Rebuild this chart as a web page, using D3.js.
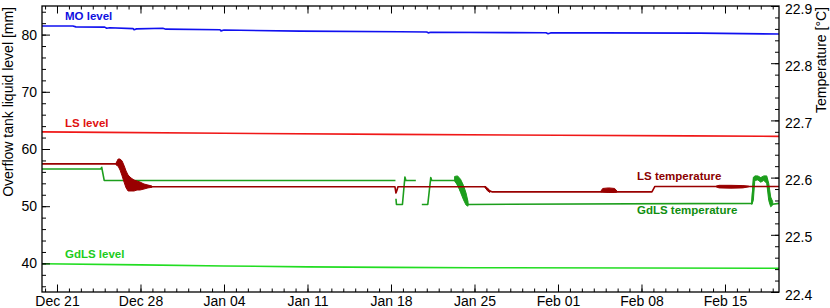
<!DOCTYPE html>
<html>
<head>
<meta charset="utf-8">
<script src="https://cdn.jsdelivr.net/npm/d3@7"></script>
<style>
  body { margin: 0; background: #fff; }
  svg { display: block; font-family: "Liberation Sans", Arial, sans-serif; }
</style>
</head>
<body>
<svg id="chart" width="830" height="308"></svg>
<script>
// time range of the plot and the week ticks
const timeStart = "2011-12-19 17:50";
const timeEnd = "2012-02-19 12:40";
const weekTicks = ["2011-12-21", "2011-12-28", "2012-01-04", "2012-01-11", "2012-01-18",
                   "2012-01-25", "2012-02-01", "2012-02-08", "2012-02-15"];
const levelTicks = [40, 50, 60, 70, 80];
const tempTicks = [22.4, 22.5, 22.6, 22.7, 22.8, 22.9];

// liquid levels [mm] (left axis)
const moLevel = [
  ["2011-12-19 17:50", 81.5], ["2011-12-22 08:00", 81.5], ["2011-12-22 14:00", 81.35],
  ["2011-12-25 00:00", 81.3], ["2011-12-25 04:00", 81.1], ["2011-12-25 10:00", 81.2],
  ["2011-12-27 09:00", 81.05], ["2011-12-27 11:00", 80.85], ["2011-12-27 16:00", 81.0],
  ["2011-12-29 21:00", 81.1], ["2011-12-30 03:00", 80.95], ["2012-01-03 16:00", 80.85],
  ["2012-01-03 18:00", 80.65], ["2012-01-04 00:00", 80.8], ["2012-01-10 09:00", 80.6],
  ["2012-01-18 18:00", 80.5], ["2012-01-21 00:00", 80.45], ["2012-01-21 03:00", 80.3],
  ["2012-01-21 08:00", 80.42], ["2012-01-28 03:00", 80.35], ["2012-01-31 00:00", 80.32],
  ["2012-01-31 04:00", 80.15], ["2012-01-31 09:00", 80.3], ["2012-02-04 12:00", 80.3],
  ["2012-02-12 22:00", 80.25], ["2012-02-19 12:40", 80.1]
];
const lsLevel = [
  ["2011-12-19 17:50", 63.0], ["2011-12-25 00:00", 62.9], ["2012-01-04 00:00", 62.75],
  ["2012-01-18 00:00", 62.55], ["2012-02-01 00:00", 62.4], ["2012-02-12 00:00", 62.3],
  ["2012-02-19 12:40", 62.2]
];
const gdlsLevel = [
  ["2011-12-19 17:50", 39.95], ["2011-12-28 00:00", 39.75], ["2012-01-04 00:00", 39.55],
  ["2012-01-11 00:00", 39.4], ["2012-01-18 00:00", 39.3], ["2012-01-25 00:00", 39.25],
  ["2012-02-08 00:00", 39.2], ["2012-02-19 12:40", 39.15]
];

// temperatures [°C] (right axis); null = no data
const lsTemp = [
  ["2011-12-19 17:50", 22.624], ["2011-12-25 23:00", 22.624], ["2011-12-26 03:00", 22.628],
  ["2011-12-26 11:00", 22.616], ["2011-12-26 19:00", 22.597], ["2011-12-27 05:00", 22.585],
  ["2011-12-27 17:00", 22.586], ["2011-12-28 07:00", 22.586], ["2011-12-28 23:00", 22.584],
  ["2012-01-18 08:00", 22.584], ["2012-01-18 10:00", 22.573], ["2012-01-18 12:00", 22.578],
  ["2012-01-18 14:00", 22.584], ["2012-01-25 21:00", 22.584], ["2012-01-26 04:00", 22.578],
  ["2012-01-26 12:00", 22.575], ["2012-02-08 21:00", 22.575], ["2012-02-09 03:00", 22.5845],
  ["2012-02-19 12:40", 22.5845]
];
const gdlsTemp = [
  ["2011-12-19 17:50", 22.615], ["2011-12-24 16:00", 22.615], ["2011-12-24 18:00", 22.618],
  ["2011-12-24 23:00", 22.595], ["2012-01-18 09:00", 22.595], ["2012-01-18 09:30", null],
  ["2012-01-18 10:00", 22.563], ["2012-01-18 11:00", 22.553], ["2012-01-18 23:00", 22.553],
  ["2012-01-19 04:00", 22.601], ["2012-01-19 06:00", 22.595], ["2012-01-20 02:00", 22.595],
  ["2012-01-20 08:00", null], ["2012-01-20 14:00", 22.553], ["2012-01-21 02:00", 22.553],
  ["2012-01-21 08:00", 22.600], ["2012-01-21 10:00", 22.595], ["2012-01-23 09:00", 22.595],
  ["2012-01-24 11:00", 22.553], ["2012-02-17 06:00", 22.555], ["2012-02-17 10:00", 22.599],
  ["2012-02-18 12:00", 22.598], ["2012-02-18 20:00", 22.553], ["2012-02-19 12:40", 22.555]
];

// noisy stretches: [time, low, high]
const lsTempBurstDec = [
  ["2011-12-25 23:00", 22.622, 22.6255], ["2011-12-26 03:00", 22.620, 22.6325],
  ["2011-12-26 07:00", 22.613, 22.6325], ["2011-12-26 11:00", 22.603, 22.629],
  ["2011-12-26 15:00", 22.592, 22.621], ["2011-12-26 19:00", 22.582, 22.6115],
  ["2011-12-26 23:00", 22.5766, 22.6045], ["2011-12-27 05:00", 22.5766, 22.5993],
  ["2011-12-27 11:00", 22.5766, 22.5958], ["2011-12-27 17:00", 22.5783, 22.594],
  ["2011-12-27 23:00", 22.5783, 22.5923], ["2011-12-28 07:00", 22.580, 22.5888],
  ["2011-12-28 15:00", 22.582, 22.587], ["2011-12-28 23:00", 22.583, 22.5853]
];
const lsTempBurstJan = [
  ["2012-01-25 21:00", 22.583, 22.585], ["2012-01-26 02:00", 22.577, 22.582],
  ["2012-01-26 07:00", 22.574, 22.577]
];
const lsTempBurstFeb1 = [
  ["2012-02-04 14:00", 22.575, 22.576], ["2012-02-04 18:00", 22.575, 22.581],
  ["2012-02-05 06:00", 22.574, 22.582], ["2012-02-05 18:00", 22.574, 22.581],
  ["2012-02-05 23:00", 22.575, 22.576]
];
const lsTempBurstFeb2 = [
  ["2012-02-14 06:00", 22.584, 22.585], ["2012-02-14 12:00", 22.582, 22.5865],
  ["2012-02-15 12:00", 22.5815, 22.5865], ["2012-02-16 12:00", 22.582, 22.586],
  ["2012-02-17 00:00", 22.584, 22.585]
];
const gdlsTempBurstJan = [
  ["2012-01-23 08:00", 22.594, 22.602], ["2012-01-23 14:00", 22.588, 22.603],
  ["2012-01-23 20:00", 22.574, 22.597], ["2012-01-24 02:00", 22.561, 22.586],
  ["2012-01-24 07:00", 22.552, 22.573], ["2012-01-24 11:00", 22.550, 22.558]
];
const gdlsTempBurstFeb = [
  ["2012-02-17 06:00", 22.553, 22.558], ["2012-02-17 09:00", 22.560, 22.600],
  ["2012-02-17 12:00", 22.595, 22.603], ["2012-02-17 18:00", 22.596, 22.603],
  ["2012-02-18 00:00", 22.592, 22.600], ["2012-02-18 06:00", 22.595, 22.603],
  ["2012-02-18 12:00", 22.590, 22.603], ["2012-02-18 16:00", 22.560, 22.590],
  ["2012-02-18 20:00", 22.549, 22.566], ["2012-02-19 00:00", 22.552, 22.558]
];

const parseTime = d3.timeParse("%Y-%m-%d %H:%M");
const parseDay = d3.timeParse("%Y-%m-%d");

const svg = d3.select("#chart");
const plotLeft = 42, plotRight = 779, plotTop = 6, plotBottom = 292;

const x = d3.scaleTime().domain([parseTime(timeStart), parseTime(timeEnd)]).range([plotLeft, plotRight]);
const yL = d3.scaleLinear().domain([35, 85]).range([plotBottom, plotTop]);
const yR = d3.scaleLinear().domain([22.4, 22.9]).range([plotBottom, plotTop]);

svg.append("defs").append("clipPath").attr("id", "plotclip")
  .append("rect").attr("x", plotLeft).attr("y", plotTop)
  .attr("width", plotRight - plotLeft).attr("height", plotBottom - plotTop);

const plot = svg.append("g").attr("clip-path", "url(#plotclip)");

function lineOn(y) {
  return d3.line()
    .defined(d => d[1] != null)
    .x(d => x(parseTime(d[0])))
    .y(d => y(d[1]));
}
function band(rows, color) {
  plot.append("path")
    .datum(rows)
    .attr("fill", color)
    .attr("stroke", color)
    .attr("stroke-width", 1)
    .attr("d", d3.area()
      .x(d => x(parseTime(d[0])))
      .y0(d => yR(d[1]))
      .y1(d => yR(d[2])));
}
function series(rows, y, color, w) {
  plot.append("path")
    .datum(rows)
    .attr("fill", "none")
    .attr("stroke", color)
    .attr("stroke-width", w)
    .attr("stroke-linejoin", "round")
    .attr("d", lineOn(y));
}

const cMO = "#1010f0", cLS = "#f01818", cGdLS = "#22dd22";
const cLSt = "#990000", cGdLSt = "#1c9e1c";

series(moLevel, yL, cMO, 1.6);
series(lsLevel, yL, cLS, 1.6);
series(gdlsLevel, yL, cGdLS, 1.6);

series(gdlsTemp, yR, cGdLSt, 1.6);
band(gdlsTempBurstJan, cGdLSt);
band(gdlsTempBurstFeb, cGdLSt);

series(lsTemp, yR, cLSt, 1.6);
band(lsTempBurstDec, cLSt);
band(lsTempBurstJan, cLSt);
band(lsTempBurstFeb1, cLSt);
band(lsTempBurstFeb2, cLSt);

// axes, ROOT style: ticks pointing inside the frame
const majorDays = weekTicks.map(parseDay);
const minorDays = d3.timeDay.range(x.domain()[0], x.domain()[1]);

function styleAxis(g) {
  g.select(".domain").remove();
  g.selectAll("line").attr("stroke", "#000").attr("stroke-width", 1);
  g.selectAll("text").attr("font-size", 14).attr("fill", "#000")
    .attr("font-family", "'Liberation Sans', Arial, sans-serif");
}

svg.append("g").attr("transform", `translate(0,${plotBottom})`)
  .call(d3.axisBottom(x).tickValues(minorDays).tickSize(-3.5).tickFormat(""))
  .call(styleAxis);
svg.append("g").attr("transform", `translate(0,${plotBottom})`)
  .call(d3.axisBottom(x).tickValues(majorDays).tickSize(-7.5).tickPadding(4)
    .tickFormat(d3.timeFormat("%b %d")))
  .call(styleAxis);
svg.append("g").attr("transform", `translate(0,${plotTop})`)
  .call(d3.axisTop(x).tickValues(minorDays).tickSize(-3.5).tickFormat(""))
  .call(styleAxis);
svg.append("g").attr("transform", `translate(0,${plotTop})`)
  .call(d3.axisTop(x).tickValues(majorDays).tickSize(-7.5).tickFormat(""))
  .call(styleAxis);

svg.append("g").attr("transform", `translate(${plotLeft},0)`)
  .call(d3.axisLeft(yL).tickValues(d3.range(36, 85, 2)).tickSize(-4).tickFormat(""))
  .call(styleAxis);
svg.append("g").attr("transform", `translate(${plotLeft},0)`)
  .call(d3.axisLeft(yL).tickValues(levelTicks).tickSize(-8).tickPadding(5))
  .call(styleAxis);

svg.append("g").attr("transform", `translate(${plotRight},0)`)
  .call(d3.axisRight(yR).tickValues(d3.range(0, 26).map(i => 22.4 + i * 0.02))
    .tickSize(-4).tickFormat(""))
  .call(styleAxis);
svg.append("g").attr("transform", `translate(${plotRight},0)`)
  .call(d3.axisRight(yR).tickValues(tempTicks).tickSize(-8).tickPadding(6)
    .tickFormat(d3.format(".1f")))
  .call(styleAxis)
  .call(g => g.selectAll("text").attr("dy", "0.5em"));

// frame
svg.append("rect")
  .attr("x", plotLeft).attr("y", plotTop)
  .attr("width", plotRight - plotLeft).attr("height", plotBottom - plotTop)
  .attr("fill", "none").attr("stroke", "#000").attr("stroke-width", 1.3);

// axis titles
svg.append("text")
  .attr("transform", "rotate(-90)")
  .attr("x", -7).attr("y", 13)
  .attr("text-anchor", "end")
  .attr("font-size", 14)
  .text("Overflow tank liquid level [mm]");
svg.append("text")
  .attr("transform", "rotate(-90)")
  .attr("x", -7).attr("y", 826)
  .attr("text-anchor", "end")
  .attr("font-size", 14)
  .text("Temperature [°C]");

// series labels
const labels = [
  { text: "MO level", x: 65, y: 20, color: "#1010e0" },
  { text: "LS level", x: 65, y: 127, color: "#e01010" },
  { text: "GdLS level", x: 65, y: 258, color: "#1ccc1c" },
  { text: "LS temperature", x: 637, y: 180, color: "#8b0000" },
  { text: "GdLS temperature", x: 637, y: 214, color: "#108e10" }
];
svg.selectAll(".lbl")
  .data(labels)
  .join("text")
  .attr("class", "lbl")
  .attr("x", d => d.x)
  .attr("y", d => d.y)
  .attr("font-size", 11.5)
  .attr("font-weight", "bold")
  .attr("fill", d => d.color)
  .text(d => d.text);
</script>
</body>
</html>
